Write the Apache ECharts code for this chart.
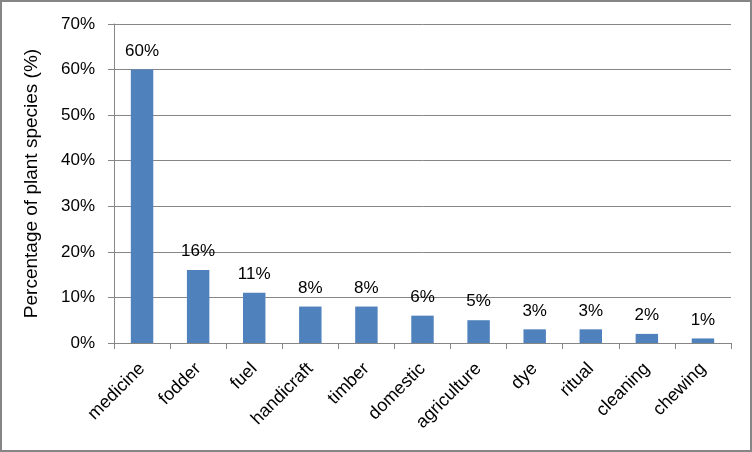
<!DOCTYPE html>
<html>
<head>
<meta charset="utf-8">
<script src="https://cdn.jsdelivr.net/npm/echarts@6/dist/echarts.min.js"></script>
<style>
  html, body { margin: 0; padding: 0; background: #fff; }
  #main { width: 748px; height: 448px; border: 2px solid #868686; }
</style>
</head>
<body>
<div id="main"></div>
<script>
// categories and values (%)
var categories = ["medicine", "fodder", "fuel", "handicraft", "timber", "domestic",
  "agriculture", "dye", "ritual", "cleaning", "chewing"];
var values = [60, 16, 11, 8, 8, 6, 5, 3, 3, 2, 1];
var yTicks = [0, 10, 20, 30, 40, 50, 60, 70];

var font = "'Liberation Sans', 'DejaVu Sans', sans-serif";
var myChart = echarts.init(document.getElementById("main"));

var option = {
  animation: false,
  grid: {
    left: 112,
    right: 19,
    top: 22,
    bottom: 107,
    containLabel: false
  },
  xAxis: {
    type: "category",
    data: categories,
    axisLine: { lineStyle: { color: "#868686", width: 1 } },
    axisTick: { show: true, alignWithLabel: false, length: 6, lineStyle: { color: "#868686" } },
    axisLabel: {
      rotate: 45,
      interval: 0,
      margin: 23,
      color: "#000",
      fontFamily: font,
      fontSize: 18
    }
  },
  yAxis: {
    type: "value",
    min: yTicks[0],
    max: yTicks[yTicks.length - 1],
    interval: 10,
    name: "Percentage of plant species (%)",
    nameLocation: "middle",
    nameGap: 73,
    nameRotate: 90,
    nameTextStyle: { color: "#000", fontFamily: font, fontSize: 19 },
    axisLine: { show: true, lineStyle: { color: "#868686", width: 1 } },
    axisTick: { show: true, length: 6, lineStyle: { color: "#868686" } },
    axisLabel: {
      formatter: "{value}%",
      margin: 19,
      color: "#000",
      fontFamily: font,
      fontSize: 17
    },
    splitLine: { lineStyle: { color: "#868686", width: 1 } }
  },
  series: [
    {
      type: "bar",
      data: values,
      barWidth: "40%",
      itemStyle: { color: "#4F81BD" },
      label: {
        show: true,
        position: "top",
        distance: 10,
        formatter: "{c}%",
        color: "#000",
        fontFamily: font,
        fontSize: 17
      }
    }
  ]
};
myChart.setOption(option);
</script>
</body>
</html>
